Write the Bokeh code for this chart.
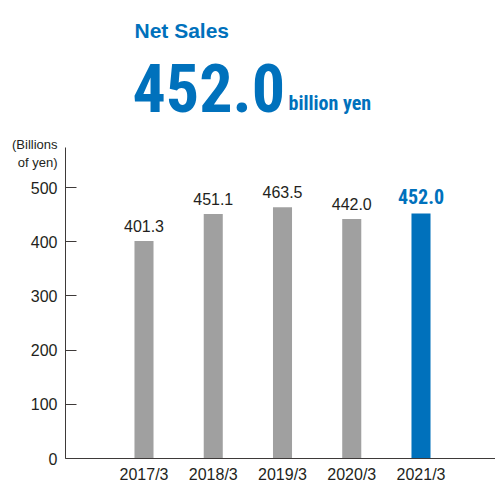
from bokeh.plotting import figure
from bokeh.models import ColumnDataSource, FixedTicker, Label, Range1d
from bokeh.core.properties import value
from bokeh.embed import file_html
from bokeh.resources import INLINE

# ---- data ----
years = ["2017/3", "2018/3", "2019/3", "2020/3", "2021/3"]
net_sales = [401.3, 451.1, 463.5, 442.0, 452.0]
highlight = [False, False, False, False, True]
y_ticks = [0, 100, 200, 300, 400, 500]
headline_value = 452.0

BLUE = "#0071BC"
GRAY = "#A0A0A0"
TEXT = "#231F20"
AXIS = "#3E3A39"

xs = list(range(len(years)))
src = ColumnDataSource(dict(
    x=xs, y=net_sales,
    fill=[BLUE if h else GRAY for h in highlight],
))
src_norm = ColumnDataSource(dict(
    x=[x for x, h in zip(xs, highlight) if not h],
    y=[v for v, h in zip(net_sales, highlight) if not h],
    label=[f"{v:.1f}" for v, h in zip(net_sales, highlight) if not h],
))
src_hi = ColumnDataSource(dict(
    x=[x for x, h in zip(xs, highlight) if h],
    y=[v for v, h in zip(net_sales, highlight) if h],
    label=[f"{v:.1f}" for v, h in zip(net_sales, highlight) if h],
))

W, H = 495, 482
LEFT = 65          # px of the y axis line
BASE = 458         # px of the baseline (y = 0)
PX_X = 69.25       # px per category
X0 = 143.5         # px of the first bar centre
PX_Y = 0.542       # px per unit

def dx(px):
    return (px - X0) / PX_X

def dy(py):
    return (BASE - py) / PX_Y

p = figure(width=W, height=H, output_backend="svg", toolbar_location=None,
           x_range=Range1d(dx(0), dx(W)),
           y_range=Range1d(dy(H), dy(0)),
           min_border_left=0, min_border_right=0, min_border_top=0,
           min_border_bottom=0)
p.outline_line_color = None
p.grid.visible = False

p.vbar(x="x", top="y", bottom=0, width=0.275, fill_color="fill", line_color=None, source=src)

p.text(x="x", y="y", text="label", source=src_norm, text_align="center",
       text_baseline="alphabetic", y_offset=-15, text_color=TEXT,
       text_font=value("Liberation Sans"), text_font_size="16px")
p.text(x="x", y="y", text="label", source=src_hi, text_align="center",
       text_baseline="alphabetic", y_offset=-17, text_color=BLUE,
       text_font=value("Roboto Condensed"), text_font_style="bold",
       text_font_size="20px")

# y axis, drawn at a fixed place inside the frame
ya = p.yaxis[0]
ya.fixed_location = dx(LEFT)
ya.ticker = FixedTicker(ticks=y_ticks)
ya.bounds = (0, 574)
ya.major_tick_in = 11
ya.major_tick_out = 0
ya.minor_tick_line_color = None
ya.major_label_standoff = 8
ya.axis_line_color = AXIS
ya.major_tick_line_color = AXIS
ya.major_label_text_font = "Liberation Sans"
ya.major_label_text_font_size = "16px"
ya.major_label_text_color = TEXT

# x axis, drawn at y = 0 inside the frame
xa = p.xaxis[0]
xa.fixed_location = 0
xa.ticker = FixedTicker(ticks=xs)
xa.bounds = (dx(LEFT), dx(W))
xa.major_label_overrides = {i: y for i, y in enumerate(years)}
xa.major_tick_line_color = None
xa.minor_tick_line_color = None
xa.major_tick_in = 0
xa.major_tick_out = 0
xa.major_label_standoff = 7
xa.axis_line_color = AXIS
xa.major_label_text_font = "Liberation Sans"
xa.major_label_text_font_size = "16px"
xa.major_label_text_color = TEXT

# headline and unit texts
p.add_layout(Label(x=dx(134), y=dy(29.5), text="Net Sales",
                   text_color=BLUE, text_font="Liberation Sans", text_font_style="bold",
                   text_font_size="21px", text_baseline="alphabetic"))
p.add_layout(Label(x=dx(132), y=dy(87.5), text=f"{headline_value:.1f}",
                   text_color=BLUE, text_font="Roboto Condensed", text_font_style="bold",
                   text_font_size="66px", text_baseline="alphabetic"))
p.add_layout(Label(x=dx(288), y=dy(102), text="billion yen",
                   text_color=BLUE, text_font="Roboto Condensed", text_font_style="bold",
                   text_font_size="20px", text_baseline="alphabetic"))
p.add_layout(Label(x=dx(57), y=dy(136), text="(Billions\nof yen)",
                   text_color=TEXT, text_font="Liberation Sans", text_font_size="13px",
                   text_align="right", text_baseline="top"))

open("out.html", "w").write(file_html(p, INLINE))
